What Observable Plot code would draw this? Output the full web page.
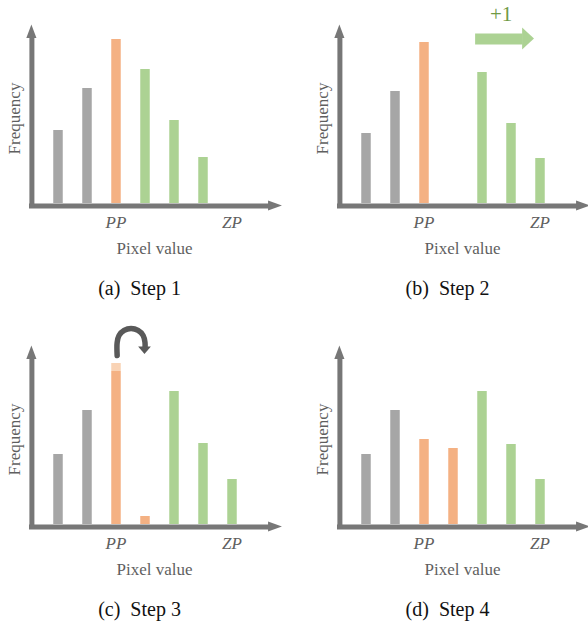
<!DOCTYPE html>
<html><head><meta charset="utf-8">
<script src="https://cdn.jsdelivr.net/npm/d3@7"></script>
<script src="https://cdn.jsdelivr.net/npm/@observablehq/plot@0.6"></script>
<style>
html,body{margin:0;padding:0;background:#fff;overflow:hidden;}
#wrap{position:relative;width:588px;height:627px;overflow:hidden;background:#fff;}
.panel{position:absolute;width:290px;height:300px;}
.panel svg{max-width:none !important;width:290px;height:300px;}
.panel svg text{font-family:"Liberation Serif","Times New Roman",Tinos,"DejaVu Serif",serif !important;}
</style></head><body><div id="wrap"></div>
<script>
// ---- data ----
const pixelValues = [1, 2, 3, 4, 5, 6, 7];
const step1Freq  = [73, 115, 164, 134, 83, 46, 0];
const step1Group = ["other", "other", "peak", "shift", "shift", "shift", "shift"];
const step2Freq  = [70, 112, 161, 0, 131, 80, 45];
const step2Group = ["other", "other", "peak", "shift", "shift", "shift", "shift"];
const step3Freq  = [70, 114, 153, 8, 133, 81, 45];
const step3Moved = [0, 0, 8, 0, 0, 0, 0];
const step3Group = ["other", "other", "peak", "peak", "shift", "shift", "shift"];
const step4Freq  = [70, 114, 85, 76, 133, 80, 45];
const step4Group = ["other", "other", "peak", "peak", "shift", "shift", "shift"];
const tickValues = [3, 7];
const tickLabels = ["PP", "ZP"];
const xLabel = "Pixel value";
const yLabel = "Frequency";
const captionLetters = ["(a)", "(b)", "(c)", "(d)"];
const captionSteps = ["Step 1", "Step 2", "Step 3", "Step 4"];
const shiftLabel = "+1";

// annotation geometry (data units)
const shiftArrow = {y: 164.5, x1: 4.78, x2: 6.42, headX: 6.4, tipX: 6.81, half: 11};
const shiftLabelPos = {x: 5.66, y: 189.5};
const loopPath = [
  {x: 3.04, y: 169}, {x: 3.04, y: 182}, {x: 3.104, y: 189}, {x: 3.28, y: 194.1}, {x: 3.52, y: 196},
  {x: 3.76, y: 194.1}, {x: 3.936, y: 189}, {x: 4.0, y: 182}, {x: 4.0, y: 176}
];
const loopHead = [{y: 177.5, x1: 3.78, x2: 4.22}, {y: 170, x1: 4.0, x2: 4.0}];

// ---- style ----
const colors = {other: "#a6a6a6", peak: "#f4b183", moved: "#f9d3b5", shift: "#acd293"};
const axisColor = "#777777";
const textColor = "#5f5f5f";
const font = "Liberation Serif";

function makeRows(freq, group, moved) {
  return pixelValues.map((x, i) => ({x, f: freq[i], g: group[i], m: moved ? moved[i] : 0}))
    .filter(d => d.f > 0);
}

function panel(idx, rows, extras) {
  const marks = [
    // axes
    Plot.ruleY([{y: 0, x1: 0.017, x2: 8.3}], {y: "y", x1: "x1", x2: "x2", dy: 2.5, stroke: axisColor, strokeWidth: 5}),
    Plot.areaY([{x: 8.26, y1: -7.5, y2: 2.5}, {x: 8.74, y1: -2.5, y2: -2.5}], {x: "x", y1: "y1", y2: "y2", fill: axisColor}),
    Plot.ruleX([{x: 0.1, y1: -4.8, y2: 166}], {x: "x", y1: "y1", y2: "y2", stroke: axisColor, strokeWidth: 5}),
    Plot.areaX([{y: 165, x1: -0.075, x2: 0.275}, {y: 178.5, x1: 0.1, x2: 0.1}], {y: "y", x1: "x1", x2: "x2", fill: axisColor}),
    // bars
    Plot.ruleX(rows, {x: "x", y1: 0, y2: "f", stroke: d => colors[d.g], strokeWidth: 9.5}),
    Plot.ruleX(rows.filter(d => d.m > 0), {x: "x", y1: "f", y2: d => d.f + d.m, stroke: colors.moved, strokeWidth: 9.5}),
    // ticks
    Plot.text(tickValues.map((x, i) => ({x, t: tickLabels[i]})), {x: "x", text: "t", frameAnchor: "bottom", dy: 19, lineAnchor: "middle", fontSize: 17, fontStyle: "italic", fill: textColor, fontFamily: font}),
    Plot.text([xLabel], {text: d => d, frameAnchor: "bottom", dx: -5, dy: 44.6, lineAnchor: "middle", fontSize: 17, fill: textColor, fontFamily: font}),
    Plot.text([yLabel], {text: d => d, frameAnchor: "left", dx: -14.5, dy: 5, rotate: -90, textAnchor: "middle", lineAnchor: "middle", fontSize: 17, fill: textColor, fontFamily: font}),
    Plot.text([captionLetters[idx] + "\u2002" + captionSteps[idx]], {text: d => d, frameAnchor: "bottom", dx: -20, dy: 84.6, lineAnchor: "middle", fontSize: 20, fill: "#111", fontFamily: font}),
    ...extras
  ];
  return Plot.plot({
    width: 290, height: 300,
    marginLeft: 28.5, marginRight: 0.5, marginTop: 23, marginBottom: 97,
    x: {domain: [0, 9], axis: null},
    y: {domain: [0, 180], axis: null},
    style: {background: "transparent", overflow: "visible"},
    marks
  });
}

const extras2 = [
  Plot.ruleY([shiftArrow], {y: "y", x1: "x1", x2: "x2", stroke: colors.shift, strokeWidth: 11}),
  Plot.areaY([{x: shiftArrow.headX, y1: shiftArrow.y - shiftArrow.half, y2: shiftArrow.y + shiftArrow.half},
              {x: shiftArrow.tipX, y1: shiftArrow.y, y2: shiftArrow.y}], {x: "x", y1: "y1", y2: "y2", fill: colors.shift}),
  Plot.text([shiftLabelPos], {x: "x", y: "y", text: () => shiftLabel, lineAnchor: "middle", fontSize: 21, fill: "#6f9a44", fontFamily: font})
];
const extras3 = [
  Plot.line(loopPath, {x: "x", y: "y", curve: "catmull-rom", stroke: "#595959", strokeWidth: 5.5}),
  Plot.areaX(loopHead, {y: "y", x1: "x1", x2: "x2", fill: "#595959"})
];

const panels = [
  {el: panel(0, makeRows(step1Freq, step1Group), []), left: 0, top: 0},
  {el: panel(1, makeRows(step2Freq, step2Group), extras2), left: 308, top: 0},
  {el: panel(2, makeRows(step3Freq, step3Group, step3Moved), extras3), left: 0, top: 321},
  {el: panel(3, makeRows(step4Freq, step4Group), []), left: 308, top: 321}
];
const wrap = document.getElementById("wrap");
for (const p of panels) {
  const d = document.createElement("div");
  d.className = "panel";
  d.style.left = p.left + "px";
  d.style.top = p.top + "px";
  d.appendChild(p.el);
  wrap.appendChild(d);
}
</script></body></html>
